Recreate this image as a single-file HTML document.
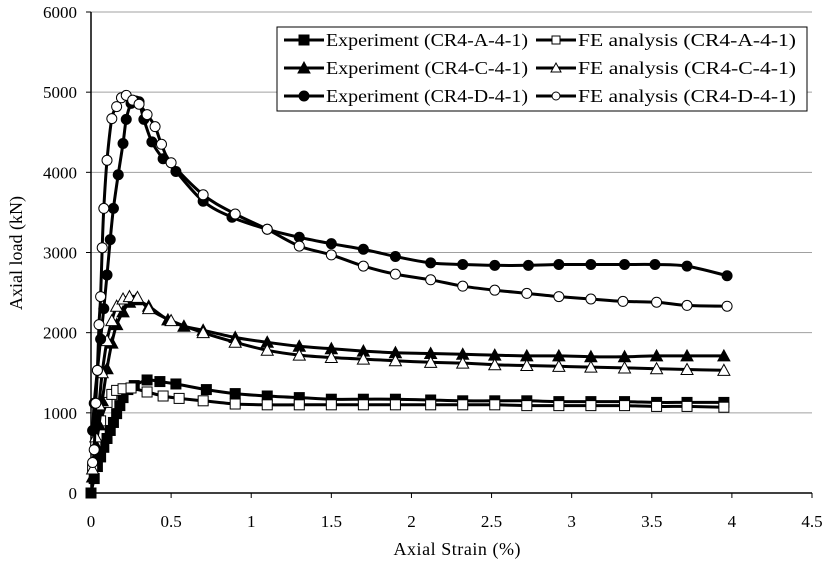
<!DOCTYPE html>
<html><head><meta charset="utf-8"><style>
body{margin:0;background:#fff;}
svg{display:block;font-family:"Liberation Serif",serif;}
</style></head><body>
<svg id="chart" width="831" height="563">
<g id="grid"></g>
<g id="axes"></g>
<g id="series"></g>
<g id="legend"></g>
</svg>
<script>
const xTicks=[0,0.5,1,1.5,2,2.5,3,3.5,4,4.5];
const yTicks=[0,1000,2000,3000,4000,5000,6000];
const dExpX=[0.01,0.02,0.04,0.06,0.08,0.1,0.12,0.14,0.17,0.2,0.22,0.25,0.28,0.3,0.33,0.38,0.45,0.53,0.7,0.88,1.1,1.3,1.5,1.7,1.9,2.12,2.32,2.52,2.73,2.92,3.12,3.33,3.52,3.72,3.97];
const dExpY=[780,1120,1530,1920,2300,2720,3160,3550,3970,4360,4660,4860,4890,4880,4660,4380,4170,4010,3640,3440,3290,3190,3110,3040,2950,2870,2850,2840,2840,2850,2850,2850,2850,2830,2710];
const dFeX=[0.01,0.02,0.03,0.04,0.05,0.06,0.07,0.08,0.1,0.13,0.16,0.19,0.22,0.26,0.3,0.35,0.4,0.44,0.5,0.7,0.9,1.1,1.3,1.5,1.7,1.9,2.12,2.32,2.52,2.72,2.92,3.12,3.32,3.53,3.72,3.97];
const dFeY=[380,540,1120,1530,2100,2450,3060,3550,4150,4670,4820,4930,4960,4900,4850,4720,4570,4350,4120,3720,3480,3290,3080,2970,2830,2730,2660,2580,2530,2490,2450,2420,2390,2380,2340,2330];
const cExpX=[0.01,0.03,0.05,0.07,0.1,0.13,0.16,0.2,0.24,0.28,0.36,0.48,0.58,0.7,0.9,1.1,1.3,1.5,1.7,1.9,2.12,2.32,2.52,2.72,2.92,3.12,3.33,3.53,3.72,3.95];
const cExpY=[200,600,850,1150,1550,1870,2100,2260,2380,2410,2330,2160,2080,2030,1940,1880,1830,1800,1770,1750,1740,1730,1720,1710,1710,1700,1700,1710,1710,1710];
const cFeX=[0.01,0.03,0.05,0.07,0.1,0.13,0.16,0.2,0.24,0.29,0.36,0.5,0.7,0.9,1.1,1.3,1.5,1.7,1.9,2.12,2.32,2.52,2.72,2.92,3.12,3.33,3.53,3.72,3.95];
const cFeY=[300,700,1100,1500,1900,2150,2330,2420,2450,2440,2300,2150,2000,1880,1780,1720,1690,1670,1650,1630,1620,1600,1590,1580,1570,1560,1550,1540,1530];
const aExpX=[0,0.02,0.04,0.06,0.08,0.1,0.12,0.14,0.16,0.18,0.2,0.23,0.27,0.35,0.43,0.53,0.72,0.9,1.1,1.3,1.5,1.7,1.9,2.12,2.32,2.52,2.72,2.92,3.12,3.33,3.53,3.72,3.95];
const aExpY=[0,180,330,450,570,680,780,880,990,1090,1190,1290,1340,1410,1390,1360,1290,1240,1210,1190,1170,1170,1170,1160,1150,1150,1150,1140,1140,1140,1130,1130,1130];
const aFeX=[0.01,0.03,0.06,0.1,0.13,0.16,0.2,0.25,0.35,0.45,0.55,0.7,0.9,1.1,1.3,1.5,1.7,1.9,2.12,2.32,2.52,2.72,2.92,3.12,3.33,3.53,3.72,3.95];
const aFeY=[300,600,900,1130,1230,1280,1300,1310,1260,1210,1180,1150,1110,1100,1100,1100,1100,1100,1100,1100,1100,1090,1090,1090,1090,1080,1080,1070];

const NS="http://www.w3.org/2000/svg";
const X0=91,X1=812,Y0=493,Y1=12;
const sx=v=>X0+(v/4.5)*(X1-X0);
const sy=v=>Y0-(v/6000)*(Y0-Y1);
function mk(t,a,p){const e=document.createElementNS(NS,t);for(const k in a)e.setAttribute(k,a[k]);p.appendChild(e);return e;}
const grid=document.getElementById('grid'),axes=document.getElementById('axes'),ser=document.getElementById('series'),leg=document.getElementById('legend');
yTicks.forEach(v=>{
 if(v>0){const g=mk('line',{x1:X0,x2:X1,y1:sy(v),y2:sy(v),stroke:'#a0a0a0','stroke-width':1},grid);
 
 }
 const t=mk('text',{x:X0-14,y:sy(v)+6,'text-anchor':'end','font-size':17},axes);t.textContent=v;
 
 
 mk('line',{x1:X0-5,x2:X0,y1:sy(v),y2:sy(v),stroke:'#000'},axes);
});
xTicks.forEach(v=>{
 const t=mk('text',{x:sx(v),y:Y0+34,'text-anchor':'middle','font-size':17},axes);t.textContent=v;
 
 
 mk('line',{x1:sx(v),x2:sx(v),y1:Y0,y2:Y0+5,stroke:'#000'},axes);
});
mk('line',{x1:X0,x2:X0,y1:Y1,y2:Y0,stroke:'#000','stroke-width':1.5},axes);
mk('line',{x1:X0,x2:X1,y1:Y0,y2:Y0,stroke:'#000','stroke-width':1.5},axes);
let xt=mk('text',{x:457,y:555,'text-anchor':'middle','font-size':18,textLength:127},axes);xt.textContent='Axial Strain (%)';


let yt=mk('text',{x:22,y:253,'text-anchor':'middle','font-size':18,transform:'rotate(-90 22 253)'},axes);yt.textContent='Axial load (kN)';



function marker(kind,fill,x,y,p){
 let e;
 if(kind==='sq')e=mk('rect',{x:x-5,y:y-5,width:10,height:10,fill:fill?'#000':'#fff',stroke:'#000','stroke-width':1},p);
 else if(kind==='tri')e=mk('polygon',{points:`${x},${y-6} ${x-6},${y+5} ${x+6},${y+5}`,fill:fill?'#000':'#fff',stroke:'#000','stroke-width':1},p);
 else e=mk('circle',{cx:x,cy:y,r:5,fill:fill?'#000':'#fff',stroke:'#000','stroke-width':1},p);
 return e;
}
function smooth(P){
 let d='M'+P[0][0].toFixed(1)+','+P[0][1].toFixed(1);
 for(let i=0;i<P.length-1;i++){
  const p0=P[i-1]||P[i],p1=P[i],p2=P[i+1],p3=P[i+2]||p2,t=6;
  const c1=[p1[0]+(p2[0]-p0[0])/t,p1[1]+(p2[1]-p0[1])/t];
  const c2=[p2[0]-(p3[0]-p1[0])/t,p2[1]-(p3[1]-p1[1])/t];
  d+=` C${c1[0].toFixed(1)},${c1[1].toFixed(1)} ${c2[0].toFixed(1)},${c2[1].toFixed(1)} ${p2[0].toFixed(1)},${p2[1].toFixed(1)}`;
 }
 return d;
}
const seriesList=[
 ['experiment-a',aExpX,aExpY,'sq',true],['fe-a',aFeX,aFeY,'sq',false],
 ['experiment-c',cExpX,cExpY,'tri',true],['fe-c',cFeX,cFeY,'tri',false],
 ['experiment-d',dExpX,dExpY,'ci',true],['fe-d',dFeX,dFeY,'ci',false]];
seriesList.forEach(([n,xs,ys,k,f])=>{
 const g=mk('g',{},ser);
 
 
 const P=xs.map((x,i)=>[sx(x),sy(ys[i])]);
 const l=mk('path',{d:smooth(P),fill:'none',stroke:'#000','stroke-width':3,'stroke-linejoin':'round'},g);
 
 
 xs.forEach((x,i)=>{const m=marker(k,f,sx(x),sy(ys[i]),g);
  
  });
});
const lb=mk('rect',{x:277,y:27,width:530,height:84,fill:'#fff',stroke:'#000','stroke-width':1},leg);


const labels=['Experiment (CR4-A-4-1)','FE analysis (CR4-A-4-1)','Experiment (CR4-C-4-1)','FE analysis (CR4-C-4-1)','Experiment (CR4-D-4-1)','FE analysis (CR4-D-4-1)'];
seriesList.forEach(([n,xs,ys,k,f],i)=>{
 const col=i%2,row=Math.floor(i/2);
 const lx=col?536:284,ly=40+row*28;
 const g=mk('g',{},leg);
 
 
 mk('line',{x1:lx,x2:lx+40,y1:ly,y2:ly,stroke:'#000','stroke-width':3},g);
 if(f)marker(k,true,lx+20,ly,g);else{
  if(k==='sq')mk('rect',{x:lx+16,y:ly-4,width:8,height:8,fill:'#fff',stroke:'#000'},g);
  else if(k==='tri')mk('polygon',{points:`${lx+20},${ly-5} ${lx+15},${ly+4} ${lx+25},${ly+4}`,fill:'#fff',stroke:'#000'},g);
  else mk('circle',{cx:lx+20,cy:ly,r:4,fill:'#fff',stroke:'#000'},g);}
 const t=mk('text',{x:lx+42,y:ly+6,'font-size':18,textLength:col?218:202,lengthAdjust:'spacingAndGlyphs'},g);t.textContent=labels[i];
});
</script>
</body></html>
